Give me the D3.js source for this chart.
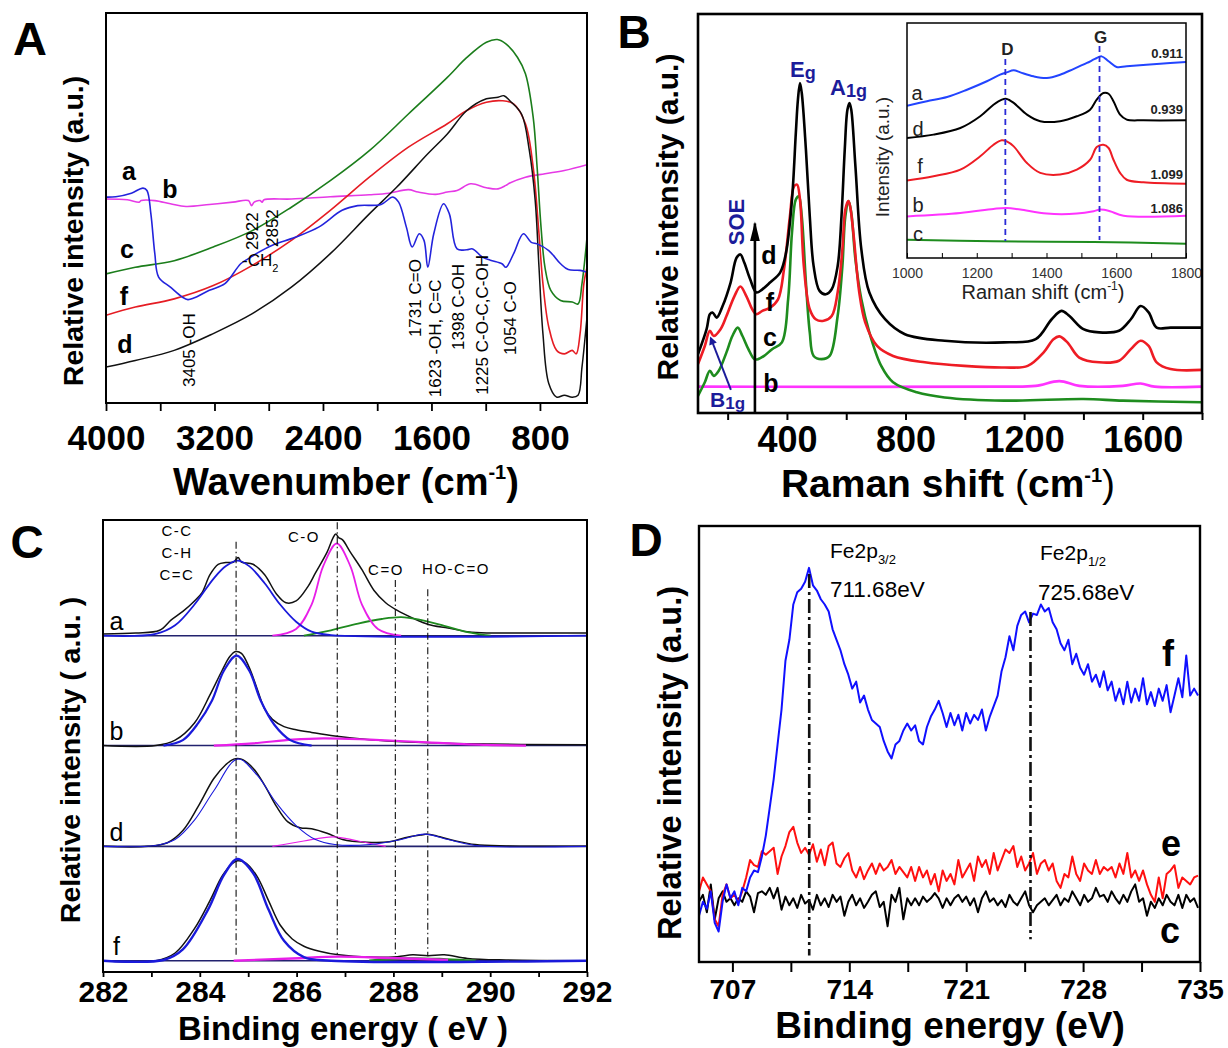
<!DOCTYPE html>
<html>
<head>
<meta charset="utf-8">
<script src="https://cdn.jsdelivr.net/npm/d3@7"></script>
<style>
  body { margin: 0; background: #fff; }
  svg { display: block; }
</style>
</head>
<body>
<svg id="fig" width="1228" height="1048"></svg>
<script>
// ---------- A: FTIR, [wavenumber cm-1, relative intensity] ----------
const ftirA = [[4000,52.8],[3928,52.9],[3813,53.8],[3727,55.1],[3698,54.5],[3669,48.5],[3640,38.3],[3612,32.3],[3525,29.7],[3439,27.2],[3396,26.5],[3353,26.9],[3238,28.9],[3123,30.6],[3007,35.7],[2950,37.0],[2892,38.3],[2777,40.4],[2605,42.5],[2432,45.1],[2259,49.4],[2144,50.6],[1972,50.9],[1885,52.8],[1842,51.5],[1785,45.1],[1742,40.0],[1690,43.4],[1655,41.7],[1627,34.8],[1583,43.4],[1511,51.1],[1468,48.5],[1411,39.5],[1339,39.3],[1296,39.5],[1224,37.4],[1166,36.6],[1080,35.7],[1051,34.8],[994,38.3],[922,43.4],[864,41.2],[821,40.8],[735,39.1],[648,35.7],[591,34.2],[504,34.0],[461,33.6]];
const ftirB = [[4000,52.3],[3842,52.1],[3755,51.5],[3741,51.9],[3640,51.9],[3525,51.1],[3410,50.4],[3238,50.9],[3065,51.5],[2950,51.9],[2927,50.6],[2907,51.5],[2864,51.9],[2849,51.5],[2835,52.1],[2633,52.3],[2346,52.9],[2058,53.4],[1914,53.8],[1770,54.7],[1698,54.1],[1569,53.5],[1483,54.1],[1411,54.5],[1310,56.2],[1195,55.2],[1109,54.9],[1051,55.8],[1022,56.4],[907,57.9],[763,58.8],[620,59.6],[453,61.1]];
const ftirC = [[4000,33.1],[3784,34.8],[3497,36.5],[3209,40.0],[2921,44.2],[2633,50.2],[2346,57.0],[2058,64.7],[1770,74.1],[1483,83.5],[1339,88.6],[1195,92.5],[1114,93.2],[1051,92.1],[965,88.6],[907,84.4],[850,73.3],[821,60.5],[792,45.1],[763,34.8],[720,28.9],[648,26.3],[562,25.9],[519,25.4],[490,30.6],[453,42.5]];
const ftirF = [[4000,22.5],[3784,24.6],[3497,26.7],[3209,30.1],[2921,35.3],[2633,41.7],[2346,49.4],[2058,57.9],[1770,65.6],[1483,71.6],[1339,75.0],[1195,77.1],[1080,77.5],[994,76.7],[907,71.6],[850,60.5],[807,43.4],[778,30.6],[735,19.5],[677,13.5],[620,12.6],[562,13.5],[533,12.6],[504,17.8],[476,30.6],[453,34.8]];
const ftirD = [[4000,9.2],[3784,10.9],[3497,13.5],[3209,17.8],[2921,22.9],[2633,29.7],[2346,38.3],[2058,48.5],[1857,55.3],[1627,63.9],[1483,69.0],[1339,75.0],[1195,78.0],[1109,78.4],[1066,78.8],[1022,77.5],[936,74.1],[878,64.7],[835,51.9],[807,34.8],[778,17.8],[735,5.0],[677,1.5],[620,2.0],[562,1.5],[519,2.0],[490,9.2],[453,22.0]];
const ftirTicks = [4000, 3200, 2400, 1600, 800];
const ftirMinor = [3600, 2800, 2000, 1200];
const ftirPeakText = ['3405 -OH', '2922', '2852', '1731 C=O', '1623 -OH, C=C', '1398 C-OH', '1225 C-O-C,C-OH', '1054 C-O'];
const ftirPeakAt = [3388, 2923, 2776, 1721, 1574, 1404, 1227, 1021];
const ftirPeakFoot = [4.1, 39.2, 40.0, 16.9, 1.5, 13.6, 2.1, 12.3];

// ---------- B: Raman, [shift cm-1, intensity] ----------
const ramanD = [[100,14.75],[129,21.0],[140,24.75],[149,25.2],[163,23.9],[183,26.8],[210,32.7],[230,38.9],[243,39.75],[256,37.7],[276,33.5],[297,30.2],[317,31.0],[343,32.7],[377,35.2],[397,40.2],[417,53.5],[430,70.2],[437,78.5],[444,82.7],[450,80.2],[464,66.0],[477,49.3],[490,36.8],[510,30.6],[531,29.75],[551,31.0],[571,36.8],[584,49.3],[595,66.0],[604,76.0],[611,77.7],[617,76.0],[631,61.8],[651,41.0],[678,30.2],[731,23.5],[798,19.75],[932,18.1],[1132,17.7],[1239,18.5],[1293,23.5],[1326,25.6],[1353,24.3],[1400,21.0],[1453,20.2],[1520,20.6],[1560,23.5],[1593,26.8],[1620,25.2],[1647,21.4],[1694,21.4],[1800,21.4]];
const ramanF = [[100,12.25],[123,16.8],[140,20.6],[153,19.3],[176,21.0],[196,24.3],[223,29.3],[243,31.7],[263,29.3],[283,26.0],[297,24.75],[317,25.6],[343,26.4],[370,28.5],[390,36.0],[410,49.3],[424,56.8],[434,57.25],[444,53.5],[457,36.8],[477,26.0],[497,23.5],[524,23.1],[551,24.3],[571,30.2],[587,41.0],[597,51.0],[607,53.1],[613,51.8],[624,45.2],[644,30.2],[664,22.7],[704,16.8],[758,14.3],[865,12.7],[998,11.8],[1132,11.4],[1212,11.8],[1266,15.2],[1299,18.5],[1319,19.2],[1346,17.7],[1386,13.9],[1453,12.7],[1520,13.1],[1560,16.0],[1593,18.1],[1620,16.8],[1647,12.7],[1694,11.0],[1800,10.8]];
const ramanC = [[100,4.3],[123,7.7],[140,10.6],[153,9.3],[170,10.6],[196,15.2],[216,19.3],[234,21.4],[250,19.3],[270,16.0],[290,13.5],[303,13.5],[323,14.3],[350,16.0],[383,17.7],[404,28.5],[417,45.2],[430,53.5],[440,54.3],[450,49.3],[464,32.7],[477,20.2],[490,14.3],[517,13.5],[544,14.3],[571,24.3],[587,36.8],[597,49.3],[608,53.1],[617,50.2],[631,38.5],[651,28.5],[678,20.2],[718,11.8],[758,7.7],[838,5.2],[932,3.9],[1132,3.1],[1400,3.5],[1533,3.1],[1800,2.7]];
const ramanB = [[100,6.6],[1132,6.6],[1239,6.8],[1319,8.0],[1386,6.8],[1533,6.8],[1593,7.4],[1640,6.6],[1800,6.6]];
const ramanTicks = [400, 800, 1200, 1600];
const ramanMinor = [200, 600, 1000, 1400, 1800];

// inset: D / G band region
const insetA = [[1000,64.8],[1057,66.7],[1115,68.5],[1172,71.6],[1229,75.2],[1267,78.0],[1286,79.0],[1306,79.9],[1325,79.0],[1363,77.3],[1401,76.6],[1439,78.0],[1477,80.4],[1516,83.0],[1539,84.7],[1558,85.8],[1578,83.7],[1601,81.3],[1630,81.6],[1726,82.7],[1800,83.4]];
const insetD = [[1000,51.1],[1076,52.5],[1153,55.3],[1210,60.3],[1248,65.2],[1272,67.4],[1286,67.7],[1306,66.0],[1344,61.0],[1382,58.2],[1439,58.2],[1487,60.3],[1525,63.1],[1544,67.4],[1563,70.2],[1578,69.9],[1592,66.7],[1611,61.0],[1630,58.9],[1678,58.6],[1800,58.6]];
const insetF = [[1000,33.0],[1076,34.8],[1153,37.6],[1210,43.3],[1248,48.2],[1272,50.1],[1286,49.6],[1306,47.5],[1344,40.4],[1382,36.2],[1439,35.5],[1487,37.6],[1525,41.8],[1544,47.2],[1563,48.2],[1578,46.8],[1592,41.8],[1611,36.2],[1630,33.3],[1678,32.2],[1800,31.6]];
const insetB = [[1000,17.7],[1153,19.1],[1248,20.9],[1286,21.3],[1325,20.6],[1401,18.9],[1487,18.9],[1535,19.9],[1554,20.6],[1582,19.9],[1621,18.0],[1800,18.0]];
const insetC = [[1000,7.8],[1248,7.1],[1535,6.8],[1800,6.1]];
const insetRatios = ['0.911', '0.939', '1.099', '1.086'];
const insetBands = [1282, 1552];
const insetTicks = [1000, 1200, 1400, 1600, 1800];
const insetMinor = [1100, 1300, 1500, 1700];

// ---------- C: XPS C1s, [binding energy eV, height above own baseline] ----------
const xpsOffsets = [74.4, 50.1, 27.8, 2.5];
const xpsNames = ['a', 'b', 'd', 'f'];
const xpsARaw = [[282.00,0.4],[282.68,0.6],[283.17,1.2],[283.41,3.5],[283.65,5.4],[283.89,7.7],[284.05,9.6],[284.21,13.5],[284.38,15.8],[284.54,16.2],[284.70,16.3],[284.79,17.3],[284.86,16.3],[285.10,15.8],[285.34,13.5],[285.58,9.3],[285.78,7.3],[285.99,7.7],[286.23,10.8],[286.39,13.9],[286.63,18.5],[286.75,21.6],[286.81,22.5],[286.87,21.7],[286.95,21.2],[287.11,18.5],[287.35,14.6],[287.60,10.0],[287.84,7.3],[288.08,5.6],[288.40,3.9],[288.72,2.5],[289.13,1.7],[289.53,0.9],[289.93,0.6],[290.33,0.6],[291.14,0.6],[292.00,0.6]];
const xpsACC = [[282.00,0],[283.09,0.4],[283.49,2.3],[283.89,6.9],[284.29,12.7],[284.54,15.4],[284.78,16.6],[285.02,15.4],[285.34,11.6],[285.66,6.9],[285.99,3.1],[286.31,0.9],[286.71,0.15],[292.00,0]];
const xpsACO = [[285.50,0],[285.99,1.5],[286.31,6.9],[286.55,15.4],[286.83,20.4],[287.11,15.4],[287.35,6.9],[287.68,1.5],[288.16,0]];
const xpsACOO = [[286.15,0],[286.71,1.2],[287.27,2.7],[287.76,3.7],[288.16,4.1],[288.56,3.5],[289.05,2.2],[289.53,0.8],[290.01,0]];
const xpsBRaw = [[282.00,0],[283.09,0],[283.49,1.2],[283.89,5.0],[284.21,11.2],[284.46,16.6],[284.62,19.7],[284.74,20.8],[284.86,20.4],[285.02,17.3],[285.18,12.7],[285.34,8.1],[285.50,5.8],[285.74,4.2],[285.99,3.5],[286.31,2.9],[286.79,2.1],[287.52,1.3],[288.32,0.8],[289.53,0.4],[292.00,0.15]];
const xpsBCC = [[283.25,0],[283.65,1.2],[283.97,5.0],[284.25,9.9],[284.50,16.6],[284.76,19.9],[285.02,16.6],[285.26,9.9],[285.54,4.6],[285.87,1.2],[286.31,0]];
const xpsBCO = [[284.29,0],[285.10,0.5],[285.91,1.3],[286.55,1.6],[287.52,1.3],[288.72,0.7],[289.93,0.15],[290.74,0]];
const xpsDRaw = [[282.00,0],[282.93,0],[283.33,0.8],[283.65,3.5],[283.97,8.9],[284.29,15.0],[284.54,18.1],[284.70,19.3],[284.86,19.3],[285.10,17.3],[285.34,13.5],[285.58,8.9],[285.82,5.4],[286.07,4.1],[286.31,3.9],[286.63,2.9],[286.95,1.5],[287.44,0.9],[287.92,1.0],[288.24,1.9],[288.56,2.5],[288.72,2.7],[288.96,2.1],[289.29,1.2],[289.69,0.4],[290.33,0.1],[292.00,0]];
const xpsDFit = [[282.00,0],[283.09,0.2],[283.49,1.5],[283.89,5.8],[284.29,12.3],[284.78,19.3],[285.18,15.8],[285.58,9.6],[285.99,4.6],[286.39,1.5],[286.79,0.4],[287.52,0.4],[288.16,1.5],[288.64,2.7],[289.13,1.5],[289.69,0.2],[292.00,0]];
const xpsDCO = [[285.50,0],[286.15,1.2],[286.75,2.1],[287.27,1.2],[287.84,0]];
const xpsFRaw = [[282.00,0],[283.09,0],[283.49,1.7],[283.89,7.1],[284.21,13.3],[284.46,18.7],[284.66,21.4],[284.78,22.1],[284.94,21.7],[285.18,18.7],[285.42,13.3],[285.66,7.9],[285.91,4.8],[286.15,3.2],[286.47,2.1],[286.87,1.3],[287.52,0.8],[288.08,0.9],[288.40,1.3],[288.72,1.1],[289.05,1.3],[289.53,0.5],[290.33,0.15],[292.00,0]];
const xpsFCC = [[282.00,0],[283.25,0.15],[283.65,2.5],[284.17,11.3],[284.50,19.0],[284.78,22.5],[285.10,19.4],[285.42,11.3],[285.74,4.4],[286.15,0.8],[286.71,0],[292.00,0]];
const xpsFCO = [[284.70,0],[285.91,0.5],[286.87,0.9],[287.92,0.6],[289.13,0.15]];
const xpsFCOO = [[287.50,0],[288.30,0.5],[289.10,0.3],[289.70,0]];
const xpsMarks = [284.75, 286.84, 288.04, 288.71];
const xpsMarkTop = [95.2, 99.5, 86.7, 84.7];
const xpsTicks = [282, 284, 286, 288, 290, 292];
const xpsMinor = [283, 285, 287, 289, 291];

// ---------- D: XPS Fe2p, evenly sampled from 705 eV ----------
const feStart = 705, feStep = 0.2353;
const feF = [10.6,13.8,12.2,16.2,9.0,7.0,13.8,17.8,14.6,16.2,13.0,17.0,16.2,19.4,21.0,20.6,24.2,29.0,35.4,41.9,49.9,57.9,69.1,73.9,82.0,84.8,85.6,87.2,90.4,86.4,85.2,83.2,82.0,80.4,76.3,73.9,71.5,68.3,65.9,62.7,64.3,59.5,61.1,57.9,55.5,54.7,53.9,50.7,48.3,46.7,49.9,50.7,53.1,54.7,53.1,54.3,50.7,49.9,53.9,56.3,57.9,59.9,57.1,53.9,57.1,54.3,56.7,53.1,57.1,54.7,56.7,55.5,57.9,53.1,56.3,58.7,61.1,66.7,69.9,74.7,71.5,77.1,79.6,80.4,77.9,79.9,79.6,82.0,80.4,81.2,77.9,76.3,73.1,71.5,73.9,68.3,70.7,67.5,65.9,68.3,64.3,65.9,63.1,66.7,62.3,64.3,59.9,62.7,59.1,64.3,59.5,62.7,59.9,65.1,59.1,61.9,58.7,62.7,59.9,63.5,57.3,61.1,65.1,60.7,70.3,61.1,62.7,61.1];
const feE = [16.2,19.4,17.8,16.2,9.8,8.2,15.4,17.8,14.6,15.4,13.8,16.2,19.4,23.4,22.2,21.8,25.4,24.6,25.4,26.2,20.2,24.2,26.6,29.8,31.0,27.4,25.0,26.2,24.6,27.0,23.0,25.8,22.2,26.6,27.4,22.6,21.8,23.8,25.0,21.0,19.4,21.8,19.0,21.0,22.6,20.2,22.6,21.0,21.8,23.4,20.2,21.8,20.6,19.4,21.8,18.6,21.8,19.4,21.0,17.8,20.2,16.2,21.0,18.6,20.2,17.8,23.4,19.4,21.0,22.6,18.6,24.2,21.8,23.4,20.2,25.0,21.0,23.4,25.8,25.0,26.6,21.8,24.2,21.0,22.6,25.0,20.2,22.6,23.4,21.0,22.6,18.6,17.0,20.2,19.4,24.2,20.2,18.6,22.6,21.0,20.2,23.4,20.2,21.8,21.0,21.8,19.4,22.6,20.2,25.0,19.4,21.0,18.6,21.0,17.8,15.4,13.8,19.4,14.6,20.2,21.0,22.2,17.0,19.4,18.6,17.8,19.4,19.8];
const feC = [13.8,15.4,11.4,17.8,9.8,14.6,16.2,13.8,14.6,13.0,14.6,13.8,16.2,15.0,11.4,15.8,16.2,15.4,17.0,14.6,17.0,12.0,15.0,13.0,14.6,12.4,15.4,13.4,14.2,12.0,15.4,13.0,14.6,12.6,15.4,13.8,15.0,10.6,13.8,15.4,13.0,14.6,12.4,13.8,15.4,16.2,12.6,13.8,8.2,15.4,13.8,17.0,9.8,14.6,13.0,14.6,13.0,15.0,13.8,14.6,15.8,14.6,12.4,14.6,13.0,14.6,15.4,13.8,15.0,13.0,14.6,11.4,14.6,16.2,13.8,14.6,13.0,14.2,12.6,15.4,13.8,13.0,14.6,16.2,13.0,11.4,13.0,13.8,14.6,13.0,14.2,15.4,13.0,14.6,13.8,16.2,14.6,13.0,15.4,13.8,14.6,17.0,15.0,15.4,13.8,16.2,14.6,13.4,15.4,13.8,16.2,17.8,13.8,14.6,10.6,13.8,12.4,14.6,13.0,15.4,13.8,13.0,15.4,12.4,15.4,13.8,14.6,12.4];
const feMarks = [711.6, 724.85];
const feMarkTop = [89.0, 80.3];
const feTicks = [707, 714, 721, 728, 735];
const feMinor = [710.5, 717.5, 724.5, 731.5];

// ---------- layout ----------
const FONT = '"Liberation Sans", Arial, Helvetica, sans-serif';
const NAVY = '#1c1c9a';
const boxA = {x0: 106, x1: 587, y0: 13, y1: 403};
const boxB = {x0: 698, x1: 1202, y0: 14, y1: 413};
const boxIn = {x0: 907, x1: 1186, y0: 23, y1: 258};
const boxC = {x0: 103, x1: 587, y0: 520, y1: 972};
const boxD = {x0: 699, x1: 1200, y0: 526, y1: 962};

const svg = d3.select('#fig').attr('font-family', FONT);
const defs = svg.append('defs');

function clipFor(id, box) {
    defs.append('clipPath').attr('id', id).append('rect')
        .attr('x', box.x0).attr('y', box.y0)
        .attr('width', box.x1 - box.x0).attr('height', box.y1 - box.y0);
    return svg.append('g').attr('clip-path', `url(#${id})`);
}

function frame(box, w) {
    svg.append('rect').attr('x', box.x0).attr('y', box.y0)
        .attr('width', box.x1 - box.x0).attr('height', box.y1 - box.y0)
        .attr('fill', 'none').attr('stroke', '#000').attr('stroke-width', w);
}

function bottomAxis(x, y0, major, minor, o) {
    const g = svg.append('g').attr('transform', `translate(0,${y0})`)
        .call(d3.axisBottom(x).tickValues(major).tickSize(o.tick).tickPadding(o.pad).tickFormat(d3.format('d')));
    g.attr('font-family', FONT).attr('font-size', o.fs).attr('font-weight', o.weight || 'bold');
    g.select('.domain').remove();
    g.selectAll('.tick line').attr('stroke-width', o.tw);
    g.selectAll('.tick text').attr('fill', o.color || '#000');
    const m = svg.append('g').attr('transform', `translate(0,${y0})`)
        .call(d3.axisBottom(x).tickValues(minor).tickSize(o.tick).tickFormat(''));
    m.select('.domain').remove();
    m.selectAll('.tick line').attr('stroke-width', o.tw);
}

const smooth = d3.curveCatmullRom.alpha(0.5);
function curve(g, data, x, y, color, w, c) {
    return g.append('path').datum(data)
        .attr('fill', 'none').attr('stroke', color).attr('stroke-width', w)
        .attr('stroke-linejoin', 'round')
        .attr('d', d3.line().x(d => x(d[0])).y(d => y(d[1])).curve(c || smooth));
}

function text(x, y, str, fs, o = {}) {
    return svg.append('text').attr('x', x).attr('y', y).text(str)
        .attr('font-size', fs).attr('font-weight', o.weight || 'normal')
        .attr('fill', o.fill || '#000').attr('text-anchor', o.anchor || 'middle')
        .attr('dy', o.dy ?? '0.35em')
        .attr('letter-spacing', o.ls || 0);
}

function vtext(x, y, str, fs, o = {}) {
    return svg.append('text').attr('transform', `translate(${x},${y}) rotate(-90)`)
        .text(str).attr('font-size', fs).attr('font-weight', o.weight || 'normal')
        .attr('fill', o.fill || '#000').attr('text-anchor', o.anchor || 'middle')
        .attr('dy', '0.35em');
}

function titleWithSup(x, y, parts, fs) {
    const t = svg.append('text').attr('x', x).attr('y', y).attr('text-anchor', 'middle')
        .attr('font-size', fs).attr('font-weight', 'bold');
    parts.forEach(p => {
        t.append('tspan').text(p.t).attr('font-size', p.fs || fs)
            .attr('font-weight', p.w || 'bold').attr('dy', p.dy || 0);
    });
    return t;
}

// =============== Panel A ===============
const xA = d3.scaleLinear().domain([4000, 453]).range([boxA.x0, boxA.x1]);
const yA = d3.scaleLinear().domain([0, 100]).range([boxA.y1, boxA.y0]);
const gA = clipFor('clipA', boxA);
curve(gA, ftirB, xA, yA, '#e639e6', 1.6);
curve(gA, ftirC, xA, yA, '#1b7d1b', 1.6);
curve(gA, ftirF, xA, yA, '#e51c23', 1.6);
curve(gA, ftirD, xA, yA, '#111', 1.5);
curve(gA, ftirA, xA, yA, '#2323dc', 1.6);
frame(boxA, 2);
bottomAxis(xA, boxA.y1, ftirTicks, ftirMinor, {tick: 8, pad: 14, fs: 35, tw: 1.8});

ftirPeakText.forEach((s, i) => {
    vtext(xA(ftirPeakAt[i]), yA(ftirPeakFoot[i]), s, 17, {anchor: 'start'});
});
const ch2 = svg.append('text').attr('x', xA(2997)).attr('y', yA(36.7)).attr('dy', '0.35em')
    .attr('font-size', 17);
ch2.append('tspan').text('-CH');
ch2.append('tspan').text('2').attr('font-size', 11).attr('dy', 6);

[['a', 129, 171], ['b', 170, 189], ['c', 127, 249], ['f', 124, 296], ['d', 125, 344]]
    .forEach(([s, x, y]) => text(x, y, s, 25, {weight: 'bold'}));
vtext(73, 231, 'Relative intensity (a.u.)', 28.5, {weight: 'bold'});
titleWithSup(346, 495, [
    {t: 'Wavenumber (cm'},
    {t: '-1', fs: 20, dy: -16},
    {t: ')', dy: 16}
], 38);
text(30, 39, 'A', 47, {weight: 'bold'});

// =============== Panel B ===============
const xB = d3.scaleLinear().domain([100, 1800]).range([boxB.x0, boxB.x1]);
const yB = d3.scaleLinear().domain([0, 100]).range([boxB.y1, boxB.y0]);
const gB = clipFor('clipB', boxB);
curve(gB, ramanB, xB, yB, '#ff33ff', 2.6);
curve(gB, ramanC, xB, yB, '#1e8c1e', 2.6);
curve(gB, ramanF, xB, yB, '#ee1c24', 2.6);
curve(gB, ramanD, xB, yB, '#000', 2.6);

defs.append('marker').attr('id', 'headBlack').attr('viewBox', '0 0 20 10')
    .attr('refX', 18).attr('refY', 5).attr('markerWidth', 20).attr('markerHeight', 11)
    .attr('markerUnits', 'userSpaceOnUse').attr('orient', 'auto')
    .append('path').attr('d', 'M0,0 L20,5 L0,10 z').attr('fill', '#000');
defs.append('marker').attr('id', 'headNavy').attr('viewBox', '0 0 10 10')
    .attr('refX', 8).attr('refY', 5).attr('markerWidth', 10).attr('markerHeight', 8)
    .attr('markerUnits', 'userSpaceOnUse').attr('orient', 'auto')
    .append('path').attr('d', 'M0,0 L10,5 L0,10 z').attr('fill', NAVY);

svg.append('line').attr('x1', xB(292)).attr('x2', xB(292)).attr('y1', yB(0)).attr('y2', yB(47.5))
    .attr('stroke', '#000').attr('stroke-width', 2.6).attr('marker-end', 'url(#headBlack)');
svg.append('line').attr('x1', xB(211)).attr('y1', yB(5.8)).attr('x2', xB(143)).attr('y2', yB(18.8))
    .attr('stroke', NAVY).attr('stroke-width', 2).attr('marker-end', 'url(#headNavy)');

// inset
svg.append('rect').attr('x', boxIn.x0).attr('y', boxIn.y0)
    .attr('width', boxIn.x1 - boxIn.x0).attr('height', boxIn.y1 - boxIn.y0).attr('fill', '#fff');
const xIn = d3.scaleLinear().domain([1000, 1800]).range([boxIn.x0, boxIn.x1]);
const yIn = d3.scaleLinear().domain([0, 100]).range([boxIn.y1, boxIn.y0]);
const gIn = clipFor('clipIn', boxIn);
curve(gIn, insetC, xIn, yIn, '#1e8c1e', 2);
curve(gIn, insetB, xIn, yIn, '#ff33ff', 2);
curve(gIn, insetF, xIn, yIn, '#ee1c24', 2);
curve(gIn, insetD, xIn, yIn, '#000', 2);
curve(gIn, insetA, xIn, yIn, '#2244ff', 2);
[[insetBands[0], 84.7, 7.2], [insetBands[1], 90.2, 7.7]].forEach(([r, top, bot]) => {
    svg.append('line').attr('x1', xIn(r)).attr('x2', xIn(r)).attr('y1', yIn(top)).attr('y2', yIn(bot))
        .attr('stroke', '#2a2ad6').attr('stroke-width', 1.8).attr('stroke-dasharray', '6,4');
});
frame(boxIn, 1.5);
bottomAxis(xIn, boxIn.y1, insetTicks, insetMinor, {tick: -5, pad: 10, fs: 14, tw: 1, weight: 'normal', color: '#333'});
text(xIn(insetBands[0]) + 2, 49, 'D', 17, {weight: 'bold', fill: '#222'});
text(xIn(insetBands[1]) + 1, 37, 'G', 17, {weight: 'bold', fill: '#222'});
[53, 109, 174, 208].forEach((y, i) => text(1183, y, insetRatios[i], 13, {weight: 'bold', anchor: 'end', fill: '#222'}));
[['a', 917, 93], ['d', 918, 129], ['f', 920, 166], ['b', 918, 205], ['c', 918, 234]]
    .forEach(([s, x, y]) => text(x, y, s, 20, {fill: '#222'}));
vtext(882, 157, 'Intensity (a.u.)', 19, {fill: '#222'});
const inTitle = svg.append('text').attr('x', 1043).attr('y', 299).attr('text-anchor', 'middle')
    .attr('font-size', 20).attr('fill', '#222');
inTitle.append('tspan').text('Raman shift (cm');
inTitle.append('tspan').text('-1').attr('font-size', 12).attr('dy', -9);
inTitle.append('tspan').text(')').attr('dy', 9);

frame(boxB, 2.6);
bottomAxis(xB, boxB.y1, ramanTicks, ramanMinor, {tick: 7, pad: 6, fs: 36, tw: 2});

const eg = svg.append('text').attr('x', 790).attr('y', 77).attr('font-size', 22)
    .attr('font-weight', 'bold').attr('fill', NAVY);
eg.append('tspan').text('E');
eg.append('tspan').text('g').attr('font-size', 18).attr('dy', 2);
const a1g = svg.append('text').attr('x', 830).attr('y', 95).attr('font-size', 22)
    .attr('font-weight', 'bold').attr('fill', NAVY);
a1g.append('tspan').text('A');
a1g.append('tspan').text('1g').attr('font-size', 18).attr('dy', 2);
const b1g = svg.append('text').attr('x', 710).attr('y', 407).attr('font-size', 21)
    .attr('font-weight', 'bold').attr('fill', NAVY);
b1g.append('tspan').text('B');
b1g.append('tspan').text('1g').attr('font-size', 17).attr('dy', 2);
vtext(736, 222, 'SOE', 22, {weight: 'bold', fill: NAVY});
[['d', 769, 255], ['f', 770, 302], ['c', 770, 337], ['b', 771, 383]]
    .forEach(([s, x, y]) => text(x, y, s, 25, {weight: 'bold'}));
vtext(667, 217, 'Relative intensity (a.u.)', 30, {weight: 'bold'});
titleWithSup(948, 497, [
    {t: 'Raman shift '},
    {t: '(', w: 'normal'},
    {t: 'cm'},
    {t: '-1', fs: 20, dy: -15},
    {t: ')', w: 'normal', dy: 15}
], 39);
text(634, 32, 'B', 46, {weight: 'bold'});

// =============== Panel C ===============
const xC = d3.scaleLinear().domain([282, 292]).range([boxC.x0, boxC.x1]);
const yC = d3.scaleLinear().domain([0, 100]).range([boxC.y1, boxC.y0]);
const gC = clipFor('clipC', boxC);
const xpsSets = [
    {raw: xpsARaw, fits: [[xpsACOO, '#1f8a1f'], [xpsACO, '#e81ee8'], [xpsACC, '#1a1adb']], fw: 1.8},
    {raw: xpsBRaw, fits: [[xpsBCO, '#e81ee8'], [xpsBCC, '#1a1adb']], fw: 2.2},
    {raw: xpsDRaw, fits: [[xpsDCO, '#e81ee8'], [xpsDFit, '#1a1adb']], fw: 1.1},
    {raw: xpsFRaw, fits: [[xpsFCOO, '#1f8a1f'], [xpsFCO, '#e81ee8'], [xpsFCC, '#1a1adb']], fw: 2.4}
];
xpsSets.forEach((s, i) => {
    const off = xpsOffsets[i];
    const yy = v => yC(off + v);
    gC.append('line').attr('x1', boxC.x0).attr('x2', boxC.x1).attr('y1', yy(0)).attr('y2', yy(0))
        .attr('stroke', '#22226e').attr('stroke-width', 1.6);
    curve(gC, s.raw, xC, yy, '#111', 1.5);
    s.fits.forEach(([d, c]) => curve(gC, d, xC, yy, c, s.fw));
    text(xC(282.28), yy(3.2), xpsNames[i], 25);
});
xpsMarks.forEach((e, i) => {
    svg.append('line').attr('x1', xC(e)).attr('x2', xC(e)).attr('y1', yC(xpsMarkTop[i])).attr('y2', yC(3.5))
        .attr('stroke', '#111').attr('stroke-width', 1.1).attr('stroke-dasharray', '7,3,1.5,3');
});
frame(boxC, 2);
bottomAxis(xC, boxC.y1, xpsTicks, xpsMinor, {tick: 5, pad: 4, fs: 30, tw: 1.8});
[['C-C', 177, 531], ['C-H', 177, 553], ['C=C', 177, 575], ['C-O', 304, 537], ['C=O', 386, 570], ['HO-C=O', 456, 569]]
    .forEach(([s, x, y]) => text(x, y, s, 15, {ls: 1.5}));
vtext(70, 760, 'Relative  intensity ( a.u. )', 28.5, {weight: 'bold'});
text(343, 1040, 'Binding energy ( eV )', 33, {weight: 'bold', dy: 0});
text(27, 542, 'C', 46, {weight: 'bold'});

// =============== Panel D ===============
const xD = d3.scaleLinear().domain([705, 735]).range([boxD.x0, boxD.x1]);
const yD = d3.scaleLinear().domain([0, 100]).range([boxD.y1, boxD.y0]);
const gD = clipFor('clipD', boxD);
const feSeries = arr => arr.map((v, i) => [feStart + i * feStep, v]);
curve(gD, feSeries(feC), xD, yD, '#000', 2, d3.curveLinear);
curve(gD, feSeries(feE), xD, yD, '#ff1010', 2, d3.curveLinear);
curve(gD, feSeries(feF), xD, yD, '#1010ff', 2, d3.curveLinear);
[[feMarks[0], feMarkTop[0], 1.5], [feMarks[1], feMarkTop[1], 5.2]].forEach(([e, top, bot]) => {
    svg.append('line').attr('x1', xD(e)).attr('x2', xD(e)).attr('y1', yD(top)).attr('y2', yD(bot))
        .attr('stroke', '#111').attr('stroke-width', 2.6).attr('stroke-dasharray', '14,4,3,4');
});
frame(boxD, 2.4);
bottomAxis(xD, boxD.y1, feTicks, feMinor, {tick: 10, pad: 7, fs: 28, tw: 2});

function feLabel(x, y, sub) {
    const t = svg.append('text').attr('x', x).attr('y', y).attr('font-size', 21);
    t.append('tspan').text('Fe2p');
    t.append('tspan').text(sub).attr('font-size', 13).attr('dy', 6);
}
feLabel(830, 558, '3/2');
feLabel(1040, 560, '1/2');
text(830, 589, '711.68eV', 22.5, {anchor: 'start'});
text(1038, 592, '725.68eV', 22.5, {anchor: 'start'});
[['f', 1168, 653], ['e', 1171, 843], ['c', 1170, 930]]
    .forEach(([s, x, y]) => text(x, y, s, 36, {weight: 'bold'}));
vtext(670, 763, 'Relative intensity (a.u.)', 32.5, {weight: 'bold'});
text(950, 1038, 'Binding energy (eV)', 37, {weight: 'bold', dy: 0});
text(646, 540, 'D', 46, {weight: 'bold'});
</script>
</body>
</html>
